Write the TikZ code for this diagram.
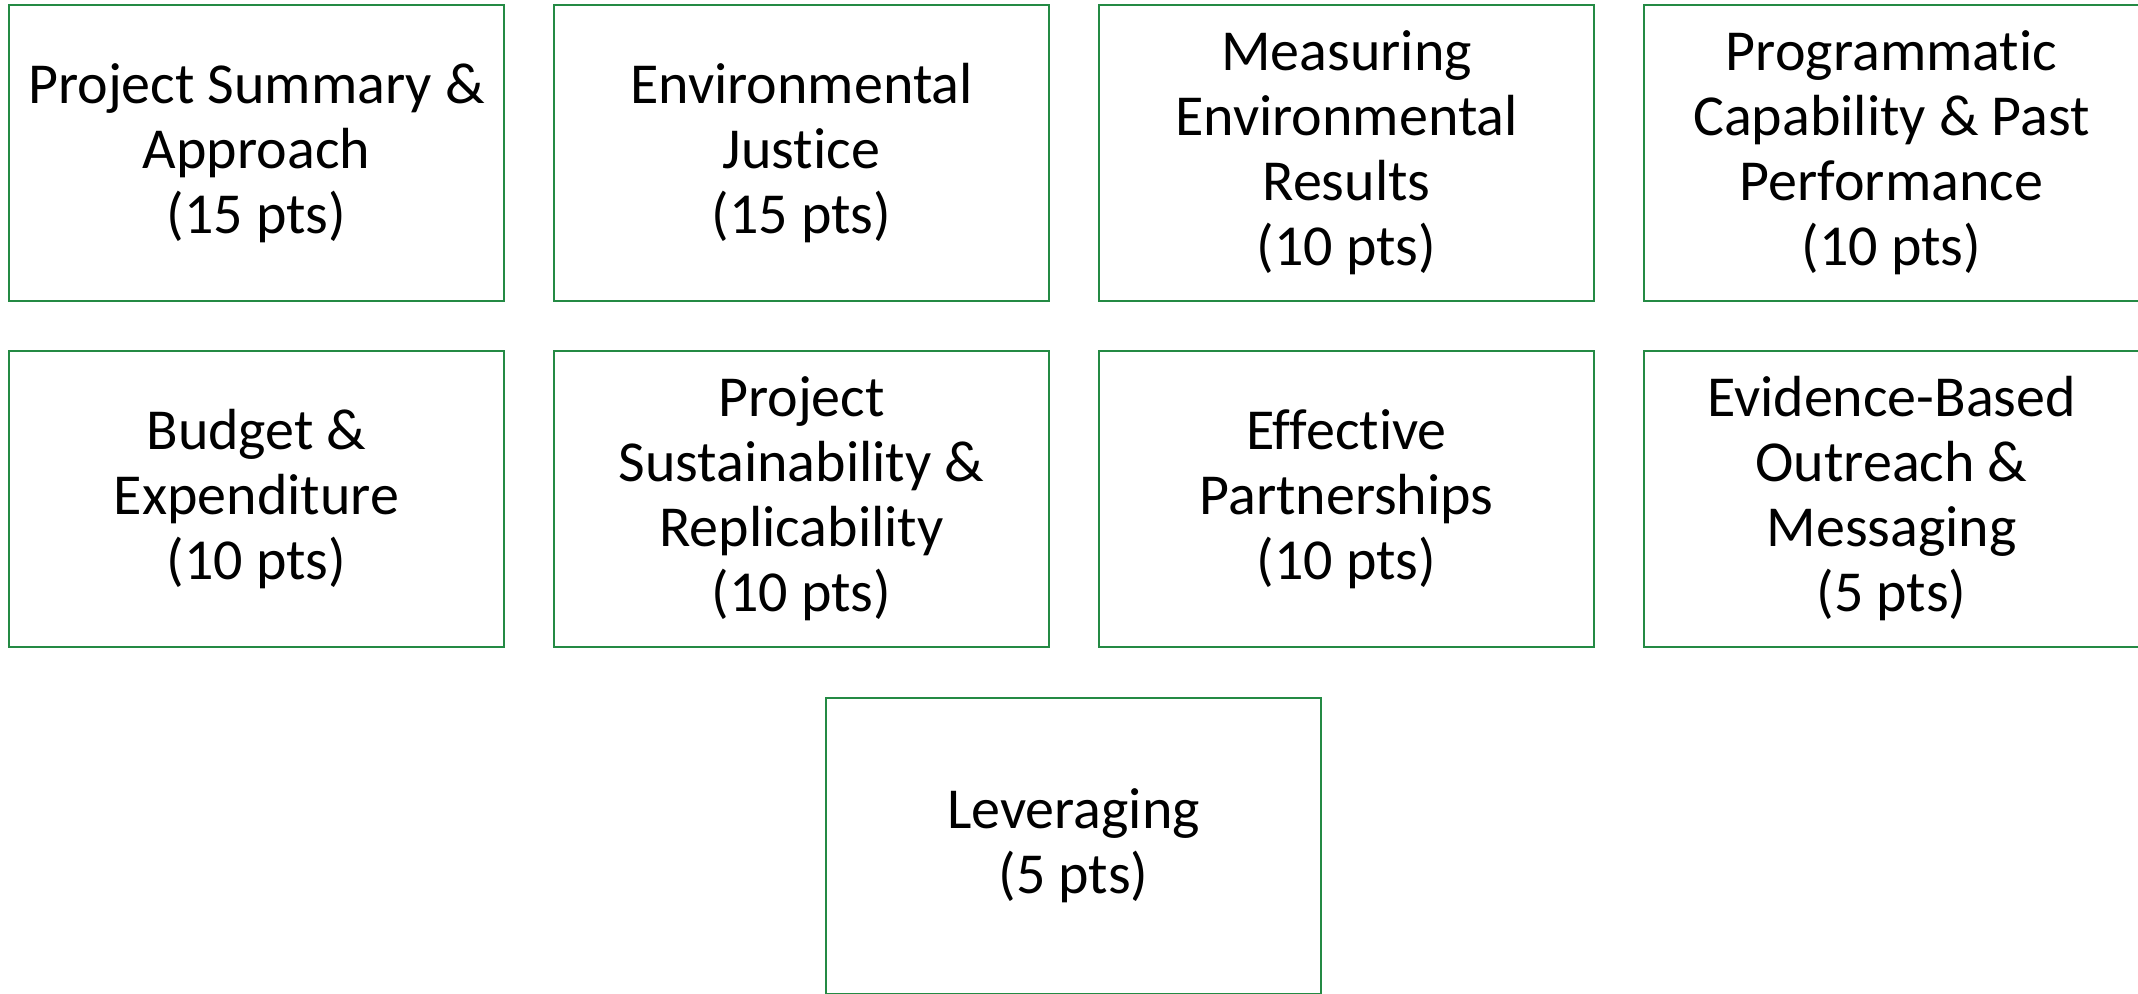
\documentclass[tikz,border=0pt]{standalone}
\usepackage{fontspec}
\setmainfont{Carlito}[Ligatures=NoCommon]
\definecolor{boxgreen}{RGB}{36,138,68}
\begin{document}
\begin{tikzpicture}[x=1pt,y=-1pt,
  card/.style={draw=boxgreen, line width=2.2pt, minimum width=495pt, minimum height=296pt,
    inner sep=0pt, align=center, text=black, font=\fontsize{58}{65}\selectfont, anchor=center}]
\useasboundingbox (0,0) rectangle (2138,993);
\node[card] (a) at (256.5,153) {Project Summary \&\\Approach\\(15 pts)};
\node[card] (b) at (801.5,153) {Environmental\\Justice\\(15 pts)};
\node[card] (c) at (1346.5,153) {Measuring\\Environmental\\Results\\(10 pts)};
\node[card] (d) at (1891.5,153) {Programmatic\\Capability \& Past\\Performance\\(10 pts)};
\node[card] (e) at (256.5,499) {Budget \&\\Expenditure\\(10 pts)};
\node[card] (f) at (801.5,499) {Project\\Sustainability \&\\Replicability\\(10 pts)};
\node[card] (g) at (1346.5,499) {Effective\\Partnerships\\(10 pts)};
\node[card] (h) at (1891.5,499) {Evidence-Based\\Outreach \&\\Messaging\\(5 pts)};
\node[card] (i) at (1073.5,846) {Leveraging\\(5 pts)};
\end{tikzpicture}
\end{document}
